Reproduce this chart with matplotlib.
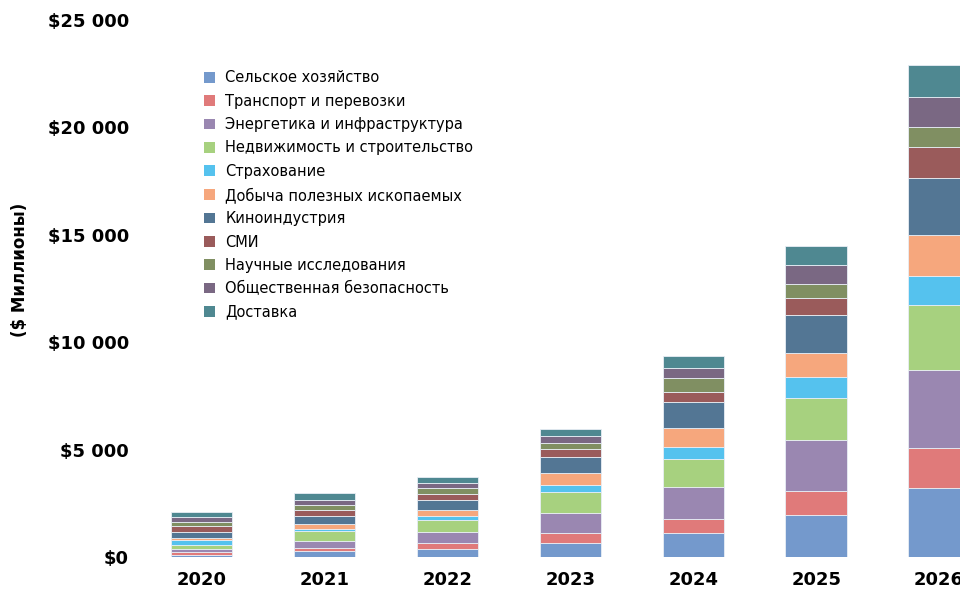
import numpy as np
import matplotlib.pyplot as plt
from matplotlib.patches import Patch
from matplotlib.ticker import FuncFormatter

# годы и отрасли
years = ['2020', '2021', '2022', '2023', '2024', '2025', '2026']
sectors = [
    'Сельское хозяйство',
    'Транспорт и перевозки',
    'Энергетика и инфраструктура',
    'Недвижимость и строительство',
    'Страхование',
    'Добыча полезных ископаемых',
    'Киноиндустрия',
    'СМИ',
    'Научные исследования',
    'Общественная безопасность',
    'Доставка',
]
colors = ['#7499cc', '#e07a7a', '#9a87b1', '#a7d17f', '#55c2ee', '#f6a77d',
          '#537694', '#9a5b5b', '#808f62', '#7a6883', '#4f8891']

# значения, $ млн (по годам 2020..2026)
selskoe      = [100, 280, 390, 670, 1110, 1970, 3220]
transport    = [120, 160, 270, 440, 650, 1090, 1870]
energetika   = [140, 320, 500, 960, 1480, 2380, 3630]
nedvizhimost = [190, 460, 560, 940, 1330, 1940, 3000]
strahovanie  = [220, 100, 200, 360, 570, 990, 1370]
dobycha      = [110, 220, 250, 520, 850, 1120, 1910]
kino         = [290, 380, 500, 780, 1210, 1760, 2650]
smi          = [250, 270, 270, 340, 460, 810, 1440]
nauka        = [210, 210, 260, 310, 660, 670, 950]
bezopasnost  = [250, 240, 250, 320, 480, 860, 1360]
dostavka     = [230, 340, 280, 320, 550, 910, 1530]

series = [selskoe, transport, energetika, nedvizhimost, strahovanie, dobycha,
          kino, smi, nauka, bezopasnost, dostavka]

fig = plt.figure(figsize=(9.6, 5.9), dpi=100)
ax = fig.add_axes([0.146, 0.056, 0.854, 0.91])

x = np.arange(len(years))
bottom = np.zeros(len(years))
for vals, c in zip(series, colors):
    ax.bar(x, vals, 0.5, bottom=bottom, color=c, edgecolor='#e8eef5', linewidth=0.6)
    bottom += np.array(vals)

ax.set_xlim(-0.5, 6.17)
ax.set_ylim(0, 25000)
ax.set_yticks(np.arange(0, 25001, 5000))
ax.yaxis.set_major_formatter(FuncFormatter(lambda v, p: '$' + f'{int(v):,}'.replace(',', ' ')))
ax.set_xticks(x)
ax.set_xticklabels(years)
ax.tick_params(length=0, labelsize=13)
ax.tick_params(axis='y', pad=8)
ax.tick_params(axis='x', pad=10)
for lbl in ax.get_xticklabels() + ax.get_yticklabels():
    lbl.set_fontweight('bold')
for s in ax.spines.values():
    s.set_visible(False)

ax.set_ylabel('($ Миллионы)', fontsize=12, fontweight='bold')
ax.yaxis.set_label_coords(-0.135, 0.535)

handles = [Patch(facecolor=c, edgecolor='none') for c in colors]
fig.legend(handles, sectors, loc='upper left', bbox_to_anchor=(0.205, 0.893),
           frameon=False, fontsize=10.5, handlelength=0.75, handleheight=0.75,
           handletextpad=0.7, labelspacing=0.57, borderpad=0)

fig.savefig('out.png', dpi=100)
